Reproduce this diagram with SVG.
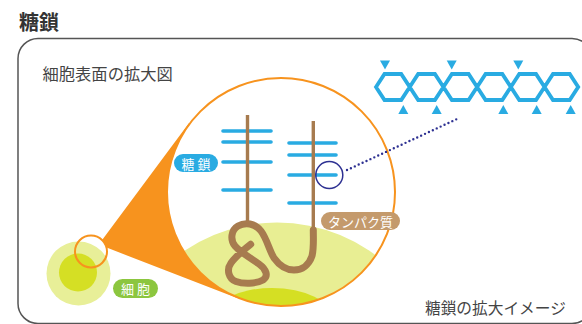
<svg xmlns="http://www.w3.org/2000/svg" width="582" height="324" viewBox="0 0 582 324">
  <style>
    .jp { font-family: "Noto Sans CJK JP", "Noto Sans", sans-serif; }
    .caption { fill: #444; }
    .pill-text { font-size: 13px; fill: #fff; text-anchor: middle; }
    .bar { stroke: #29abe2; stroke-width: 3.6; stroke-linecap: round; fill: none; }
    .stick { stroke: #a77b4f; stroke-width: 3.4; fill: none; }
    .tri { fill: #29abe2; }
  </style>
  <defs>
    <clipPath id="lens">
      <circle cx="281" cy="192" r="114"/>
    </clipPath>
  </defs>

  <rect width="582" height="324" fill="#fff"/>

  <!-- heading -->
  <text class="jp" x="19" y="30" font-size="20" font-weight="700" fill="#333">糖鎖</text>

  <!-- outer panel -->
  <rect x="18" y="38.5" width="574" height="285" rx="20" fill="none" stroke="#555" stroke-width="1.5"/>
  <text class="jp caption" x="42.5" y="80" font-size="16.3">細胞表面の拡大図</text>

  <!-- cell -->
  <g id="cell">
    <circle cx="78.5" cy="273.5" r="32" fill="#e8ef98"/>
    <circle cx="78" cy="272.5" r="19" fill="#d5df24"/>
    <rect x="113" y="279" width="45" height="19" rx="9.5" fill="#8cc63f"/>
    <text class="jp pill-text" x="135.5" y="294" font-size="13.5">細 胞</text>
  </g>

  <!-- magnifier: funnel from cell spot to lens -->
  <g id="magnifier">
    <path d="M102.3 239.7 L189 123 L200 200 L237 298 L106.6 247.6 Z" fill="#f7931e"/>
    <circle cx="91" cy="251.5" r="16" fill="none" stroke="#f7931e" stroke-width="2"/>
    <circle cx="281" cy="192" r="114" fill="#fff"/>
  </g>

  <!-- lens contents -->
  <g id="surface" clip-path="url(#lens)">
    <circle cx="277" cy="387.5" r="165" fill="#e8ee93"/>
    <ellipse cx="272" cy="318" rx="60" ry="30" fill="#d5df23"/>
  </g>

  <g id="glycans">
    <line class="bar" x1="223" y1="131" x2="271" y2="131"/>
    <line class="bar" x1="223" y1="142" x2="271" y2="142"/>
    <line class="bar" x1="223" y1="162" x2="271" y2="162"/>
    <line class="bar" x1="223" y1="190" x2="271" y2="190"/>
    <line class="bar" x1="289" y1="143" x2="336" y2="143"/>
    <line class="bar" x1="289" y1="155" x2="336" y2="155"/>
    <line class="bar" x1="289" y1="175" x2="336" y2="175"/>
    <line class="bar" x1="289" y1="203" x2="336" y2="203"/>
  </g>

  <g id="protein">
    <line class="stick" x1="247.5" y1="115" x2="247.5" y2="226"/>
    <line class="stick" x1="313.3" y1="121" x2="313.3" y2="232"/>
    <path d="M250.7 244.3 C246 248 236 256 231 263 C226 270 229 279 236 281.5 C243 284 256 284 263 280 C269 276 266 269 259 264 C252 259 240 252 235 246 C230 240 231 230 238 226 C245 222 255 223 261 231 C267 239 269 250 274 258 C279 265 286 270 294 270 C302 270 309 265 312 256 C314 248 313.3 240 313.3 230"
          fill="none" stroke="#a77b4f" stroke-width="7" stroke-linecap="round" stroke-linejoin="round"/>
  </g>

  <!-- lens rim -->
  <circle cx="281" cy="192" r="114" fill="none" stroke="#f7931e" stroke-width="2"/>

  <g id="label-glycan">
    <rect x="174" y="154" width="44" height="18" rx="9" fill="#29abe2"/>
    <text class="jp pill-text" x="196" y="168.5">糖 鎖</text>
  </g>

  <g id="label-protein">
    <rect x="321" y="212" width="79" height="18" rx="9" fill="#c49a6c"/>
    <text class="jp pill-text" x="360.5" y="226.5">タンパク質</text>
  </g>

  <!-- zoom-in marker and leader -->
  <g id="connectors">
    <circle cx="329.3" cy="175" r="13.5" fill="none" stroke="#2e3192" stroke-width="1.5"/>
    <line x1="347" y1="170" x2="457" y2="119" stroke="#2e3192" stroke-width="2.4" stroke-linecap="round" stroke-dasharray="0 4.3"/>
  </g>

  <!-- enlarged glycan chain -->
  <g id="glycan-chain">
    <path fill="none" stroke="#29abe2" stroke-width="3.8" stroke-linejoin="miter"
          d="M376 87 L384.5 74 L401.2 74 L409.7 87 L401.2 100 L384.5 100 Z
             M409.7 87 L418.2 74 L434.9 74 L443.4 87 L434.9 100 L418.2 100 Z
             M443.4 87 L451.9 74 L468.6 74 L477.1 87 L468.6 100 L451.9 100 Z
             M477.1 87 L485.6 74 L502.3 74 L510.8 87 L502.3 100 L485.6 100 Z
             M510.8 87 L519.3 74 L536 74 L544.5 87 L536 100 L519.3 100 Z
             M544.5 87 L553 74 L569.7 74 L578.2 87 L569.7 100 L553 100 Z"/>
    <polygon class="tri" points="380,60.5 390,60.5 385,69.5"/>
    <polygon class="tri" points="446.7,60.5 456.7,60.5 451.7,69.5"/>
    <polygon class="tri" points="513.3,60.5 523.3,60.5 518.3,69.5"/>
    <polygon class="tri" points="398.3,114 408.3,114 403.3,105"/>
    <polygon class="tri" points="431.7,114 441.7,114 436.7,105"/>
    <polygon class="tri" points="498.3,114 508.3,114 503.3,105"/>
    <polygon class="tri" points="531.7,114 541.7,114 536.7,105"/>
    <polygon class="tri" points="565.7,114 575.7,114 570.7,105"/>
  </g>

  <text class="jp caption" x="425" y="314" font-size="15.7">糖鎖の拡大イメージ</text>
</svg>
